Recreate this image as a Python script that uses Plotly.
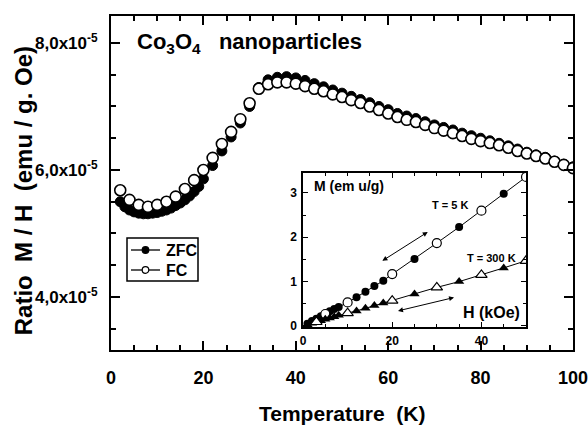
import plotly.graph_objects as go

# ---------------- data (M/H in units of 1e-5 emu/g.Oe) ----------------
T_zfc = [2, 3, 4, 5, 6, 7, 8, 9, 10, 11, 12, 13, 14, 15, 16, 17, 18, 19, 20,
         22, 24, 26, 28, 30, 32, 34, 36, 38, 40, 42, 44, 46, 48, 50, 52, 54, 56,
         58, 60, 62, 64, 66, 68, 70, 72, 74, 76, 78, 80, 82, 84, 86, 88, 90, 92,
         94, 96, 98, 100]
MH_zfc = [5.50, 5.42, 5.37, 5.34, 5.32, 5.31, 5.31, 5.32, 5.33, 5.35, 5.37, 5.40,
          5.44, 5.48, 5.53, 5.59, 5.66, 5.74, 5.86,
          6.07, 6.30, 6.52, 6.74, 7.00, 7.30, 7.42, 7.46, 7.47, 7.45, 7.41, 7.36,
          7.31, 7.26, 7.21, 7.16, 7.11, 7.06, 7.00, 6.95, 6.89, 6.85, 6.81, 6.76,
          6.71, 6.67, 6.63, 6.58, 6.54, 6.50, 6.46, 6.42, 6.38, 6.33, 6.28, 6.24,
          6.20, 6.14, 6.09, 6.05]

T_fc = [2, 4, 6, 8, 10, 12, 14, 16, 18, 20, 22, 24, 26, 28, 30, 32, 34, 36, 38,
        40, 42, 44, 46, 48, 50, 52, 54, 56, 58, 60, 62, 64, 66, 68, 70, 72, 74,
        76, 78, 80, 82, 84, 86, 88, 90, 92, 94, 96, 98, 100]
MH_fc = [5.68, 5.53, 5.45, 5.42, 5.45, 5.50, 5.58, 5.70, 5.84, 6.00, 6.19, 6.41,
         6.60, 6.80, 7.05, 7.28, 7.35, 7.38, 7.38, 7.36, 7.32, 7.28, 7.24, 7.19,
         7.15, 7.10, 7.055, 7.00, 6.945, 6.89, 6.835, 6.79, 6.755, 6.71, 6.66,
         6.62, 6.58, 6.535, 6.49, 6.455, 6.425, 6.39, 6.35, 6.30, 6.26, 6.22,
         6.18, 6.13, 6.08, 6.03]

# inset: M (emu/g) vs H (kOe)
H_5K_filled = [1, 2, 3, 4, 6, 7, 8, 12, 14, 16, 18, 25, 35, 45]
M_5K_filled = [0.05, 0.11, 0.16, 0.22, 0.33, 0.38, 0.43, 0.65, 0.77, 0.90, 1.02,
               1.51, 2.23, 2.98]
H_5K_open = [5, 10, 20, 30, 40, 50]
M_5K_open = [0.27, 0.53, 1.17, 1.87, 2.60, 3.36]

H_300K_filled = [1, 2, 4, 5, 6, 7, 8, 12, 14, 16, 18, 25, 35, 45]
M_300K_filled = [0.03, 0.06, 0.12, 0.15, 0.18, 0.21, 0.24, 0.34, 0.40, 0.46,
                 0.52, 0.72, 1.00, 1.31]
H_300K_open = [3, 10, 20, 30, 40, 50]
M_300K_open = [0.09, 0.29, 0.57, 0.87, 1.15, 1.47]

y_ticks = [4.0, 6.0, 8.0]
y_ticktext = ["4,0x10<sup>-5</sup>", "6,0x10<sup>-5</sup>", "8,0x10<sup>-5</sup>"]
legend_labels = ["ZFC", "FC"]

# ---------------- figure ----------------
FONT = "Liberation Sans, Arial, sans-serif"
SCALE = 1e-5


def sorted_pairs(h1, m1, h2, m2):
    pairs = sorted(zip(h1 + h2, m1 + m2))
    return [p[0] for p in pairs], [p[1] for p in pairs]


fig = go.Figure()

fig.add_trace(go.Scatter(
    x=T_zfc, y=[v * SCALE for v in MH_zfc], mode="markers", showlegend=False,
    name="ZFC",
    marker=dict(symbol="circle", size=10, color="black",
                line=dict(color="black", width=1))))
fig.add_trace(go.Scatter(
    x=T_fc, y=[v * SCALE for v in MH_fc], mode="markers", showlegend=False,
    name="FC",
    marker=dict(symbol="circle", size=11, color="white",
                line=dict(color="black", width=1.6))))

# inset
h5, m5 = sorted_pairs(H_5K_filled, M_5K_filled, H_5K_open, M_5K_open)
h3, m3 = sorted_pairs(H_300K_filled, M_300K_filled, H_300K_open, M_300K_open)
for hx, my in ((h5, m5), (h3, m3)):
    fig.add_trace(go.Scatter(x=[0] + hx, y=[0] + my, mode="lines", xaxis="x2",
                             yaxis="y2", showlegend=False,
                             line=dict(color="black", width=1)))
fig.add_trace(go.Scatter(x=H_5K_filled, y=M_5K_filled, mode="markers",
                         xaxis="x2", yaxis="y2", showlegend=False,
                         marker=dict(symbol="circle", size=8, color="black")))
fig.add_trace(go.Scatter(x=H_5K_open, y=M_5K_open, mode="markers",
                         xaxis="x2", yaxis="y2", showlegend=False,
                         marker=dict(symbol="circle", size=9, color="white",
                                     line=dict(color="black", width=1.2))))
fig.add_trace(go.Scatter(x=H_300K_filled, y=M_300K_filled, mode="markers",
                         xaxis="x2", yaxis="y2", showlegend=False,
                         marker=dict(symbol="triangle-up", size=9, color="black")))
fig.add_trace(go.Scatter(x=H_300K_open, y=M_300K_open, mode="markers",
                         xaxis="x2", yaxis="y2", showlegend=False,
                         marker=dict(symbol="triangle-up", size=10, color="white",
                                     line=dict(color="black", width=1.2))))

bold = dict(family=FONT, color="black", weight="bold")

fig.update_layout(
    width=588, height=428,
    margin=dict(l=111, r=15, t=16, b=78, autoexpand=False),
    paper_bgcolor="white", plot_bgcolor="white",
    showlegend=False,
    font=dict(family=FONT, color="black"),
    xaxis=dict(range=[0, 100], domain=[0, 1], showline=True, linewidth=2,
               linecolor="black", mirror="ticks", ticks="inside", ticklen=9,
               tickwidth=2, tickcolor="black", dtick=20, tick0=0,
               showgrid=False, zeroline=False, ticklabelstandoff=10,
               automargin=False, ticklabeloverflow="allow",
               tickfont=dict(size=18, **bold),
               minor=dict(ticks="inside", ticklen=5, tickwidth=1.5, dtick=5,
                          tick0=0, tickcolor="black", showgrid=False)),
    yaxis=dict(range=[3.165e-5, 8.425e-5], domain=[0, 1], showline=True,
               linewidth=2, linecolor="black", mirror="ticks", ticks="inside",
               ticklen=9, tickwidth=2, tickcolor="black", tickmode="array",
               tickvals=[v * SCALE for v in y_ticks], ticktext=y_ticktext,
               showgrid=False, zeroline=False, ticklabelstandoff=8,
               automargin=False, ticklabeloverflow="allow",
               tickfont=dict(size=17, **bold),
               minor=dict(ticks="inside", ticklen=5, tickwidth=1.5,
                          tickmode="linear", tick0=0, dtick=0.5e-5,
                          tickcolor="black", showgrid=False)),
    xaxis2=dict(domain=[0.4156, 0.8983], anchor="y2", range=[0, 50],
                showline=True, linewidth=1.5, linecolor="black", mirror="ticks",
                ticks="inside", ticklen=5, tickwidth=1.2, tickcolor="black",
                dtick=20, tick0=0, showgrid=False, zeroline=False,
                automargin=False, ticklabeloverflow="allow",
                ticklabelstandoff=2, tickfont=dict(size=12, **bold),
                minor=dict(ticks="inside", ticklen=3, dtick=5, tick0=0,
                           tickcolor="black", tickwidth=1, showgrid=False)),
    yaxis2=dict(domain=[0.0689, 0.530], anchor="x2", range=[-0.023, 3.45],
                showline=True, linewidth=1.5, linecolor="black", mirror="ticks",
                ticks="inside", ticklen=5, tickwidth=1.2, tickcolor="black",
                dtick=1, tick0=0, showgrid=False, zeroline=False,
                automargin=False, ticklabeloverflow="allow",
                ticklabelstandoff=2, tickfont=dict(size=12, **bold),
                minor=dict(ticks="inside", ticklen=3, dtick=0.5, tick0=0,
                           tickcolor="black", tickwidth=1, showgrid=False)),
)

# ---- hand-drawn legend box (paper coordinates) ----
W, H = 462.0, 334.0          # plot area size in px
L0, T0 = 111.0, 16.0         # plot area origin in px


def px_x(px):
    return (px - L0) / W


def px_y(py):
    return (T0 + H - py) / H


shapes = [dict(type="rect", xref="paper", yref="paper",
               x0=px_x(127), x1=px_x(198), y0=px_y(281), y1=px_y(238),
               line=dict(color="black", width=1.5), fillcolor="white",
               layer="above")]
legend_rows = [250, 270]
fills = ["black", "white"]
ann = []
for lab, row, fc in zip(legend_labels, legend_rows, fills):
    shapes.append(dict(type="line", xref="paper", yref="paper",
                       x0=px_x(131), x1=px_x(160), y0=px_y(row), y1=px_y(row),
                       line=dict(color="black", width=1.3), layer="above"))
    shapes.append(dict(type="circle", xref="paper", yref="paper",
                       xsizemode="pixel", ysizemode="pixel",
                       xanchor=px_x(145.5), yanchor=px_y(row),
                       x0=-3.3, x1=3.3, y0=-3.3, y1=3.3, fillcolor=fc,
                       line=dict(color="black", width=1.2), layer="above"))
    ann.append(dict(text=lab, x=px_x(164), y=px_y(row), xref="paper",
                    yref="paper", showarrow=False, xanchor="left",
                    yanchor="middle", font=dict(size=16, **bold)))

ann += [
    dict(text="Temperature\u00a0\u00a0(K)", x=0.5, y=-0.189, xref="paper",
         yref="paper", showarrow=False, font=dict(size=21, **bold),
         xanchor="center", yanchor="middle"),
    dict(text="Ratio\u00a0\u00a0M / H\u00a0\u00a0(emu / g. Oe)", x=-0.19, y=0.476,
         xref="paper", yref="paper", showarrow=False, textangle=-90,
         font=dict(size=24, **bold), xanchor="center", yanchor="middle"),
    dict(text="Co<sub>3</sub>O<sub>4</sub>\u00a0\u00a0\u00a0nanoparticles",
         x=0.052, y=0.919, xref="paper", yref="paper", showarrow=False,
         font=dict(size=22, **bold), xanchor="left", yanchor="middle"),
    dict(text="M (em u/g)", x=0.435, y=0.491, xref="paper", yref="paper",
         showarrow=False, font=dict(size=14, **bold), xanchor="left",
         yanchor="middle"),
    dict(text="T = 5 K", x=0.690, y=0.434, xref="paper", yref="paper",
         showarrow=False, font=dict(size=11, **bold), xanchor="left",
         yanchor="middle"),
    dict(text="T = 300 K", x=0.766, y=0.275, xref="paper", yref="paper",
         showarrow=False, font=dict(size=11, **bold), xanchor="left",
         yanchor="middle"),
    dict(text="H (kOe)", x=0.8896, y=0.111, xref="paper", yref="paper",
         showarrow=False, font=dict(size=16, **bold), xanchor="right",
         yanchor="middle"),
    dict(x=17.8, y=1.47, ax=28.3, ay=2.14, xref="x2", yref="y2", axref="x2",
         ayref="y2", showarrow=True, arrowhead=2, startarrowhead=2,
         arrowside="end+start", arrowsize=1, arrowwidth=1, arrowcolor="black",
         text=""),
    dict(x=21.3, y=0.34, ax=34.2, ay=0.65, xref="x2", yref="y2", axref="x2",
         ayref="y2", showarrow=True, arrowhead=2, startarrowhead=2,
         arrowside="end+start", arrowsize=1, arrowwidth=1, arrowcolor="black",
         text=""),
]
fig.update_layout(annotations=ann, shapes=shapes)

fig.write_html("out.html")
